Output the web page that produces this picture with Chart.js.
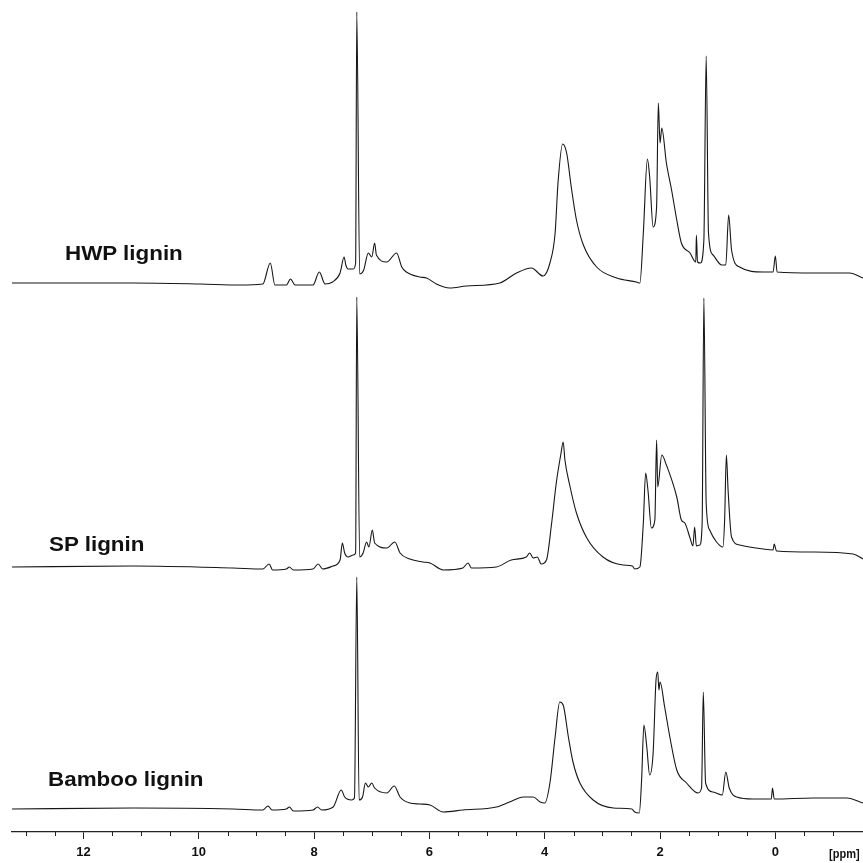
<!DOCTYPE html>
<html>
<head>
<meta charset="utf-8">
<title>1H NMR spectra of lignins</title>
<script src="https://cdn.jsdelivr.net/npm/chart.js@4.4.1/dist/chart.umd.min.js"></script>
<style>
  html, body { margin: 0; padding: 0; background: #fff; }
  #wrap { position: relative; width: 863px; height: 863px; }
  .trace-label {
    position: absolute;
    font: bold 20px "Liberation Sans", Arial, sans-serif;
    line-height: 1;
    color: #111;
    white-space: nowrap;
    transform: scaleX(1.12);
    transform-origin: left top;
  }
  #unit {
    position: absolute;
    left: 829px;
    top: 847px;
    font: bold 13px "Liberation Sans", Arial, sans-serif;
    line-height: 1;
    color: #111;
    white-space: nowrap;
    transform: scaleX(0.85);
    transform-origin: left top;
  }
</style>
</head>
<body>
<div id="wrap">
  <canvas id="nmrChart"></canvas>
  <div class="trace-label" style="left:65px; top:243px">HWP lignin</div>
  <div class="trace-label" style="left:49px; top:534px">SP lignin</div>
  <div class="trace-label" style="left:48px; top:769px">Bamboo lignin</div>
  <div id="unit">[ppm]</div>
</div>

<script>
/* 1H NMR of three lignins, stacked traces on one ppm axis */

// chemical shift axis (ppm, drawn reversed)
const xMin = -1.52;
const xMax = 13.24;
const majorTicks = [12, 10, 8, 6, 4, 2, 0];
const minorTicks = [13, 12.5, 11.5, 11, 10.5, 9.5, 9, 8.5, 7.5, 7, 6.5, 5.5, 5, 4.5,
  3.5, 3, 2.5, 1.5, 1, 0.5, -0.5, -1];

// HWP lignin (intensity above own baseline)
const hwpPpm = [13.24, 11.14, 9.98, 9.29, 8.89, 8.76, 8.68, 8.48, 8.41, 8.33, 8.02, 7.91,
  7.81, 7.68, 7.55, 7.48, 7.45, 7.41, 7.32, 7.28, 7.26, 7.21, 7.14, 7.06, 7.00, 6.95, 6.92,
  6.74, 6.57, 6.48, 6.40, 6.17, 6.05, 5.88, 5.65, 5.36, 4.78, 4.49, 4.23, 4.03, 3.91, 3.82,
  3.77, 3.69, 3.62, 3.54, 3.45, 3.33, 3.10, 2.75, 2.41, 2.35, 2.29, 2.22, 2.18, 2.12, 2.06,
  2.03, 2.00, 1.97, 1.89, 1.80, 1.71, 1.63, 1.48, 1.38, 1.37, 1.35, 1.30, 1.24, 1.20, 1.16,
  1.08, 0.93, 0.86, 0.81, 0.76, 0.62, 0.21, 0.04, 0.00, -0.03, -0.66, -1.29, -1.52];
const hwpInt = [1, 1, 0, -1, 0, 21, -1, -1, 5, -1, -1, 12,
  0, 2, 11, 27, 19, 15, 15, 21, 272, 10, 14, 31, 27, 41, 29,
  22, 31, 17, 12, 7, 6, 0, -4, -2, 1, 11, 16, 8, 21, 51,
  101, 140, 131, 97, 64, 39, 17, 6, 2, 1, 51, 125, 107, 57, 77,
  181, 141, 156, 121, 94, 64, 41, 31, 22, 49, 22, 21, 44, 228, 51,
  29, 19, 19, 69, 34, 17, 12, 12, 28, 12, 11, 11, 6];

// SP lignin
const spPpm = [13.24, 11.14, 9.41, 8.89, 8.78, 8.72, 8.48, 8.43, 8.36, 8.02, 7.93, 7.85,
  7.67, 7.55, 7.51, 7.47, 7.41, 7.32, 7.28, 7.26, 7.21, 7.15, 7.09, 7.05, 6.99, 6.95, 6.74,
  6.60, 6.51, 6.34, 6.11, 5.99, 5.76, 5.42, 5.33, 5.27, 4.84, 4.58, 4.32, 4.26, 4.20, 4.13,
  4.06, 3.97, 3.88, 3.80, 3.72, 3.68, 3.65, 3.56, 3.45, 3.27, 2.99, 2.64, 2.48, 2.44, 2.35,
  2.29, 2.25, 2.21, 2.15, 2.09, 2.06, 2.04, 1.97, 1.89, 1.71, 1.63, 1.57, 1.48, 1.43, 1.40,
  1.37, 1.31, 1.27, 1.24, 1.20, 1.14, 1.02, 0.91, 0.88, 0.85, 0.82, 0.76, 0.62, 0.21, 0.04,
  0.02, -0.02, -0.66, -1.35, -1.52];
const spInt = [1, 2, 0, -1, 4, -2, -1, 1, -2, -1, 4, -1,
  2, 8, 25, 15, 11, 13, 15, 271, 11, 15, 26, 21, 38, 25, 20,
  26, 15, 9, 6, 5, -2, 0, 5, 0, 1, 8, 11, 15, 10, 11,
  4, 8, 45, 85, 114, 126, 108, 81, 55, 30, 11, 3, 2, -1, 1,
  45, 95, 78, 40, 48, 128, 81, 113, 103, 71, 48, 45, 30, 22, 41,
  22, 23, 45, 270, 65, 38, 26, 21, 48, 113, 78, 31, 23, 19, 18,
  24, 17, 16, 14, 9];

// Bamboo lignin
const bambooPpm = [13.24, 11.14, 9.41, 8.89, 8.80, 8.73, 8.48, 8.43, 8.36, 8.02, 7.94, 7.87,
  7.67, 7.53, 7.47, 7.35, 7.30, 7.26, 7.22, 7.16, 7.11, 7.06, 7.00, 6.95, 6.74, 6.61, 6.51,
  6.34, 6.17, 5.99, 5.76, 5.42, 4.84, 4.61, 4.37, 4.20, 4.08, 4.00, 3.91, 3.82, 3.74, 3.68,
  3.59, 3.51, 3.39, 3.16, 2.81, 2.49, 2.44, 2.36, 2.32, 2.28, 2.23, 2.18, 2.12, 2.07, 2.04,
  2.02, 2.00, 1.92, 1.83, 1.71, 1.54, 1.34, 1.28, 1.25, 1.21, 1.08, 0.92, 0.86, 0.80, 0.67,
  0.39, 0.07, 0.05, 0.02, -0.66, -1.24, -1.52];
const bambooInt = [0, 1, 0, -1, 3, -1, 0, 2, -2, -1, 2, -1,
  2, 19, 12, 9, 11, 232, 9, 12, 26, 22, 26, 21, 16, 23, 12,
  6, 5, 4, -3, -1, 2, 7, 12, 12, 7, 6, 26, 72, 107, 104,
  72, 47, 26, 9, 1, 0, -3, -4, 29, 84, 62, 34, 56, 129, 137,
  119, 127, 102, 72, 39, 26, 16, 21, 117, 26, 17, 14, 37, 21, 12,
  10, 10, 21, 10, 11, 11, 6];

// stacking: where each trace's zero sits, in plot height units
const plotHeight = 832;
const hwpBase = 284;
const spBase = 568;
const bambooBase = 809;

function toPoints(ppm, inten) {
  const n = Math.min(ppm.length, inten.length);
  const pts = [];
  for (let i = 0; i < n; i++) pts.push({ x: ppm[i], y: inten[i] });
  return pts;
}

function stackAxis(base) {
  return { display: false, min: base - plotHeight, max: base };
}

function trace(label, ppm, inten, axisId) {
  return {
    label: label,
    data: toPoints(ppm, inten),
    yAxisID: axisId,
    showLine: true,
    borderColor: "#161616",
    borderWidth: 1.1,
    pointRadius: 0,
    cubicInterpolationMode: "monotone",
    clip: false,
  };
}

// short minor ticks between the labelled ones
const minorTickPlugin = {
  id: "minorTicks",
  afterDraw(chart) {
    const s = chart.scales.x;
    const ctx = chart.ctx;
    ctx.save();
    ctx.strokeStyle = "#222";
    ctx.lineWidth = 1;
    minorTicks.forEach((v) => {
      const px = Math.round(s.getPixelForValue(v)) + 0.5;
      ctx.beginPath();
      ctx.moveTo(px, s.top);
      ctx.lineTo(px, s.top + 4);
      ctx.stroke();
    });
    ctx.restore();
  },
};

const ctx = document.getElementById("nmrChart").getContext("2d");
new Chart(ctx, {
  type: "scatter",
  data: {
    datasets: [
      trace("HWP lignin", hwpPpm, hwpInt, "yHwp"),
      trace("SP lignin", spPpm, spInt, "ySp"),
      trace("Bamboo lignin", bambooPpm, bambooInt, "yBamboo"),
    ],
  },
  options: {
    responsive: true,
    maintainAspectRatio: false,
    animation: false,
    events: [],
    layout: { padding: { left: 12, right: 0, top: 0, bottom: 0 } },
    plugins: {
      legend: { display: false },
      tooltip: { enabled: false },
    },
    scales: {
      x: {
        type: "linear",
        reverse: true,
        min: xMin,
        max: xMax,
        afterBuildTicks: (s) => {
          s.ticks = majorTicks.map((v) => ({ value: v }));
        },
        afterFit: (s) => {
          s.height = 31;
        },
        border: { display: true, color: "#222", width: 1.3 },
        grid: {
          display: true,
          drawOnChartArea: false,
          drawTicks: true,
          tickLength: 7,
          tickColor: "#222",
          tickWidth: 1,
        },
        ticks: {
          color: "#111",
          padding: 6,
          maxRotation: 0,
          autoSkip: false,
          font: { family: "'Liberation Sans', Arial, sans-serif", size: 13, weight: "bold" },
          callback: (v) => String(v),
        },
      },
      yHwp: stackAxis(hwpBase),
      ySp: stackAxis(spBase),
      yBamboo: stackAxis(bambooBase),
    },
  },
  plugins: [minorTickPlugin],
});
</script>
</body>
</html>
